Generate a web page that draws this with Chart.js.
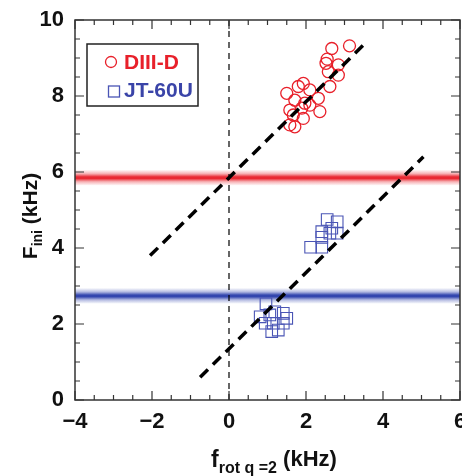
<!DOCTYPE html>
<html>
<head>
<meta charset="utf-8">
<script src="https://cdn.jsdelivr.net/npm/chart.js@4/dist/chart.umd.min.js"></script>
<style>
  html, body { margin: 0; padding: 0; background: #fff; }
  #wrap { width: 462px; height: 476px; position: relative; }
</style>
</head>
<body>
<div id="wrap"><canvas id="chart" width="462" height="476"></canvas></div>
<script>
// data
const diiidX = [3.13, 2.67, 2.55, 2.84, 2.52, 2.58, 2.84, 2.62, 1.93, 1.80, 2.10, 1.50, 1.71, 2.32, 1.97, 2.10, 2.36, 1.58, 1.89, 1.93, 1.58, 1.71, 1.67];
const diiidY = [9.32, 9.25, 8.97, 8.82, 8.86, 8.64, 8.55, 8.25, 8.33, 8.25, 8.16, 8.07, 7.89, 7.94, 7.81, 7.76, 7.59, 7.63, 7.68, 7.41, 7.24, 7.19, 7.50];
const jtX = [2.55, 2.81, 2.67, 2.81, 2.41, 2.62, 2.41, 2.12, 2.41, 0.96, 0.81, 1.06, 1.19, 1.41, 1.15, 1.41, 0.94, 1.28, 1.11, 1.50];
const jtY = [4.75, 4.69, 4.52, 4.39, 4.43, 4.39, 4.28, 4.02, 4.02, 2.53, 2.19, 2.24, 2.32, 2.28, 2.02, 2.02, 2.02, 1.84, 1.80, 2.15];
const fitUpperX = [-2.05, 3.6];
const fitUpperY = [3.80, 9.45];
const fitLowerX = [-0.75, 5.05];
const fitLowerY = [0.60, 6.40];
const zeroLineX = [0, 0];
const zeroLineY = [0, 10];
const bandValues = [5.85, 2.74];   // red (DIII-D), blue (JT-60U)
const bandColors = ['232,30,40', '40,60,170'];
const xTicks = [-4, -2, 0, 2, 4, 6];
const yTicks = [0, 2, 4, 6, 8, 10];

const RED = '#e8202a';
const BLUE = '#4a55b5';
const FONT = '"Liberation Sans Narrow", "Liberation Sans", Arial, sans-serif';

const toPts = (xs, ys) => xs.map((x, i) => ({ x, y: ys[i] }));

// write a run of [text, font, baseline shift] pieces centred on cx
const drawRuns = (ctx, runs, cx, base) => {
  let w = 0;
  runs.forEach(r => { ctx.font = r[1]; w += ctx.measureText(r[0]).width; });
  let px = cx - w / 2;
  runs.forEach(r => { ctx.font = r[1]; ctx.fillText(r[0], px, base + r[2]); px += ctx.measureText(r[0]).width; });
};

const bandsPlugin = {
  id: 'bands',
  beforeDatasetsDraw(chart) {
    const { ctx, chartArea: a, scales: { y } } = chart;
    ctx.save();
    bandValues.forEach((v, i) => {
      const py = y.getPixelForValue(v);
      const h = 8;
      const g = ctx.createLinearGradient(0, py - h, 0, py + h);
      const c = bandColors[i];
      g.addColorStop(0, `rgba(${c},0)`);
      g.addColorStop(0.25, `rgba(${c},0.35)`);
      g.addColorStop(0.45, `rgba(${c},0.95)`);
      g.addColorStop(0.55, `rgba(${c},0.95)`);
      g.addColorStop(0.75, `rgba(${c},0.35)`);
      g.addColorStop(1, `rgba(${c},0)`);
      ctx.fillStyle = g;
      ctx.fillRect(a.left, py - h, a.right - a.left, 2 * h);
    });
    ctx.restore();
  }
};

const framePlugin = {
  id: 'frame',
  afterDraw(chart) {
    const { ctx, chartArea: a, scales: { x, y } } = chart;
    ctx.save();
    ctx.strokeStyle = '#333';
    ctx.lineWidth = 1.5;
    ctx.strokeRect(a.left, a.top, a.right - a.left, a.bottom - a.top);

    // inward ticks, minor every 0.5
    ctx.lineWidth = 1.2;
    ctx.beginPath();
    for (let v = -4; v <= 6.001; v += 0.5) {
      const px = x.getPixelForValue(v);
      const len = Math.abs(v % 2) < 1e-6 ? 9 : 5;
      ctx.moveTo(px, a.bottom); ctx.lineTo(px, a.bottom - len);
      ctx.moveTo(px, a.top); ctx.lineTo(px, a.top + len);
    }
    for (let v = 0; v <= 10.001; v += 0.5) {
      const py = y.getPixelForValue(v);
      const len = Math.abs(v % 2) < 1e-6 ? 9 : 5;
      ctx.moveTo(a.left, py); ctx.lineTo(a.left + len, py);
      ctx.moveTo(a.right, py); ctx.lineTo(a.right - len, py);
    }
    ctx.stroke();

    // tick labels
    ctx.fillStyle = '#111';
    ctx.font = `bold 22px ${FONT}`;
    ctx.textAlign = 'center';
    ctx.textBaseline = 'middle';
    xTicks.forEach(v => ctx.fillText(String(v).replace('-', '\u2212'), x.getPixelForValue(v), a.bottom + 22));
    ctx.textAlign = 'right';
    yTicks.forEach(v => ctx.fillText(String(v), a.left - 11, y.getPixelForValue(v)));

    // legend
    ctx.strokeStyle = '#222';
    ctx.lineWidth = 1.5;
    ctx.strokeRect(87, 44, 111, 62);
    ctx.lineWidth = 1.3;
    ctx.strokeStyle = RED;
    ctx.beginPath(); ctx.arc(111, 62, 5.5, 0, Math.PI * 2); ctx.stroke();
    ctx.strokeStyle = BLUE;
    ctx.strokeRect(108.5, 86, 11, 11);
    ctx.font = `bold 21px ${FONT}`;
    ctx.textBaseline = 'middle';
    ctx.textAlign = 'left';
    ctx.fillStyle = RED;
    ctx.fillText('DIII-D', 124, 63);
    ctx.fillStyle = '#3a44a8';
    ctx.fillText('JT-60U', 124, 91);

    // axis titles with subscripts
    ctx.fillStyle = '#111';
    ctx.textBaseline = 'alphabetic';
    drawRuns(ctx, [
      ['f', `bold 23px ${FONT}`, 0],
      ['rot q =2', `bold 16px ${FONT}`, 6],
      [' (kHz)', `bold 22px ${FONT}`, -1]
    ], 274, 467);

    ctx.save();
    ctx.translate(37, 216);
    ctx.rotate(-Math.PI / 2);
    drawRuns(ctx, [
      ['F', `bold 21px ${FONT}`, 0],
      ['ini', `bold 14px ${FONT}`, 5],
      [' (kHz)', `bold 21px ${FONT}`, 0]
    ], 0, 0);
    ctx.restore();

    ctx.restore();
  }
};

new Chart(document.getElementById('chart'), {
  type: 'scatter',
  data: {
    datasets: [
      {
        label: 'DIII-D',
        data: toPts(diiidX, diiidY),
        pointStyle: 'circle',
        pointRadius: 6,
        borderColor: RED,
        backgroundColor: 'rgba(0,0,0,0)',
        borderWidth: 1.3,
        order: 2
      },
      {
        label: 'JT-60U',
        data: toPts(jtX, jtY),
        pointStyle: 'rect',
        pointRadius: 8.2,
        borderColor: BLUE,
        backgroundColor: 'rgba(0,0,0,0)',
        borderWidth: 1.1,
        order: 2
      },
      {
        type: 'line',
        data: toPts(fitUpperX, fitUpperY),
        borderColor: '#000',
        borderWidth: 3.5,
        borderDash: [11, 7],
        pointRadius: 0,
        order: 1
      },
      {
        type: 'line',
        data: toPts(fitLowerX, fitLowerY),
        borderColor: '#000',
        borderWidth: 3.5,
        borderDash: [11, 7],
        pointRadius: 0,
        order: 1
      },
      {
        type: 'line',
        data: toPts(zeroLineX, zeroLineY),
        borderColor: '#000',
        borderWidth: 1.2,
        borderDash: [6, 5],
        pointRadius: 0,
        order: 1
      }
    ]
  },
  options: {
    responsive: false,
    animation: false,
    devicePixelRatio: 1,
    layout: { autoPadding: false, padding: { top: 20, right: 2, left: 0, bottom: 0 } },
    plugins: { legend: { display: false }, tooltip: { enabled: false } },
    scales: {
      x: {
        type: 'linear', min: -4, max: 6,
        afterFit: s => { s.height = 76; },
        grid: { display: false, drawTicks: false },
        border: { display: false },
        ticks: { display: false }
      },
      y: {
        type: 'linear', min: 0, max: 10,
        afterFit: s => { s.width = 75; },
        grid: { display: false, drawTicks: false },
        border: { display: false },
        ticks: { display: false }
      }
    }
  },
  plugins: [bandsPlugin, framePlugin]
});
</script>
</body>
</html>
